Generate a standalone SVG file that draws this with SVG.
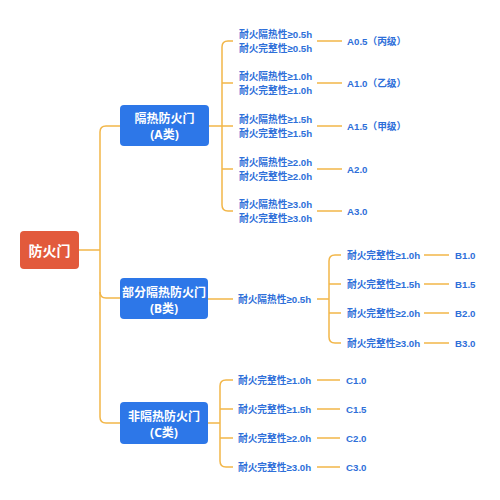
<svg xmlns="http://www.w3.org/2000/svg" width="500" height="500" viewBox="0 0 500 500">
<style>
text{font-family:"Liberation Sans","Noto Sans CJK SC",sans-serif;font-weight:bold;dominant-baseline:central}
.root{fill:#E25A3C}
.cat{fill:#2D77E8}
.wt{fill:#fff;text-anchor:middle;font-family:"Noto Sans","Noto Sans CJK SC",sans-serif}
.t{fill:#2E6FD9;font-size:9.7px}
.ln{fill:none;stroke:#F2B648;stroke-width:1.5}
</style>
<rect width="500" height="500" fill="#fff"/>
<g id="connectors" class="ln">
<path d="M79,250 L100,250"/>
<path d="M120,126 L106,126 Q100,126 100,132 L100,417 Q100,423 106,423 L120,423"/>
<path d="M100,292 Q100,298 106,298 L120,298"/>
<path d="M209,126 L222,126"/>
<path d="M233,41 L228,41 Q222,41 222,47 L222,205 Q222,211 228,211 L233,211"/>
<path d="M222,83 L233,83 M222,126 L233,126 M222,169 L233,169"/>
<path d="M317,41 L342,41 M317,83 L342,83 M317,126 L342,126 M317,169 L342,169 M317,211 L342,211"/>
<path d="M208,299 L233,299 M317,299 L329,299"/>
<path d="M341,255 L335,255 Q329,255 329,261 L329,337 Q329,343 335,343 L341,343"/>
<path d="M329,284 L341,284 M329,313 L341,313"/>
<path d="M424,255 L449,255 M424,284 L449,284 M424,313 L449,313 M424,343 L449,343"/>
<path d="M208,423 L220,423"/>
<path d="M233,380 L226,380 Q220,380 220,386 L220,461 Q220,467 226,467 L233,467"/>
<path d="M220,409 L233,409 M220,438 L233,438"/>
<path d="M317,380 L340,380 M317,409 L340,409 M317,438 L340,438 M317,467 L340,467"/>
</g>
<g id="root">
<rect class="root" x="20" y="231" width="59" height="38" rx="4"/>
<text class="wt" x="49.5" y="250" font-size="14">防火门</text>
</g>
<g id="catA">
<rect class="cat" x="120" y="105" width="89" height="41" rx="4"/>
<text class="wt" x="164.5" y="118.5" font-size="12">隔热防火门</text>
<text class="wt" x="164.5" y="134.5" font-size="12">(A类)</text>
</g>
<g id="catB">
<rect class="cat" x="120" y="278" width="88" height="41" rx="4"/>
<text class="wt" x="164" y="292" font-size="12">部分隔热防火门</text>
<text class="wt" x="164" y="308" font-size="12">(B类)</text>
</g>
<g id="catC">
<rect class="cat" x="120" y="402" width="88" height="42" rx="4"/>
<text class="wt" x="164" y="416" font-size="12">非隔热防火门</text>
<text class="wt" x="164" y="432" font-size="12">(C类)</text>
</g>
<g id="A-rows">
<text class="t" x="239" y="34">耐火隔热性≥0.5h</text>
<text class="t" x="239" y="48">耐火完整性≥0.5h</text>
<text class="t" x="239" y="76">耐火隔热性≥1.0h</text>
<text class="t" x="239" y="90">耐火完整性≥1.0h</text>
<text class="t" x="239" y="119">耐火隔热性≥1.5h</text>
<text class="t" x="239" y="133">耐火完整性≥1.5h</text>
<text class="t" x="239" y="162">耐火隔热性≥2.0h</text>
<text class="t" x="239" y="176">耐火完整性≥2.0h</text>
<text class="t" x="239" y="204">耐火隔热性≥3.0h</text>
<text class="t" x="239" y="218">耐火完整性≥3.0h</text>
</g>
<g id="A-labels">
<text class="t" x="347" y="41">A0.5（丙级）</text>
<text class="t" x="347" y="83">A1.0（乙级）</text>
<text class="t" x="347" y="126">A1.5（甲级）</text>
<text class="t" x="347" y="169">A2.0</text>
<text class="t" x="347" y="211">A3.0</text>
</g>
<g id="B-rows">
<text class="t" x="238" y="299">耐火隔热性≥0.5h</text>
<text class="t" x="347" y="255">耐火完整性≥1.0h</text>
<text class="t" x="347" y="284">耐火完整性≥1.5h</text>
<text class="t" x="347" y="313">耐火完整性≥2.0h</text>
<text class="t" x="347" y="343">耐火完整性≥3.0h</text>
</g>
<g id="B-labels">
<text class="t" x="455" y="255">B1.0</text>
<text class="t" x="455" y="284">B1.5</text>
<text class="t" x="455" y="313">B2.0</text>
<text class="t" x="455" y="343">B3.0</text>
</g>
<g id="C-rows">
<text class="t" x="238" y="380">耐火完整性≥1.0h</text>
<text class="t" x="238" y="409">耐火完整性≥1.5h</text>
<text class="t" x="238" y="438">耐火完整性≥2.0h</text>
<text class="t" x="238" y="467">耐火完整性≥3.0h</text>
</g>
<g id="C-labels">
<text class="t" x="346" y="380">C1.0</text>
<text class="t" x="346" y="409">C1.5</text>
<text class="t" x="346" y="438">C2.0</text>
<text class="t" x="346" y="467">C3.0</text>
</g>
</svg>
